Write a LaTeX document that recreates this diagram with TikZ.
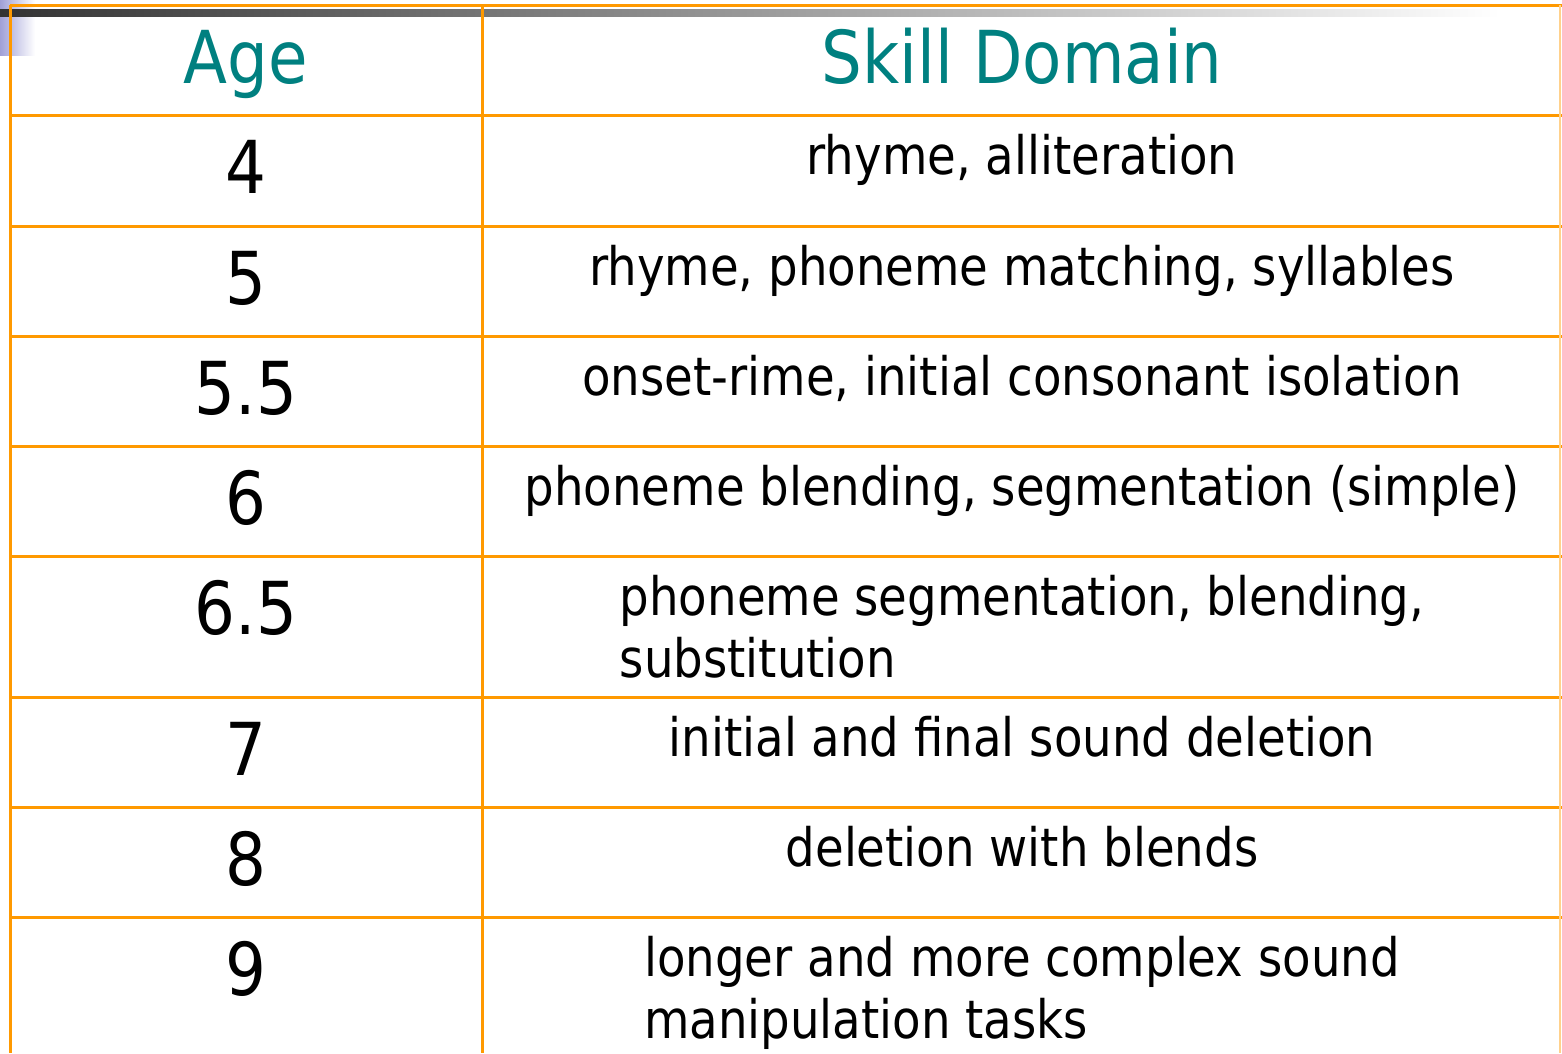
\documentclass[tikz,border=0pt]{standalone}
\usepackage{fontspec}
\setmainfont{DejaVu Sans}[FakeStretch=0.88]
\definecolor{rule}{RGB}{255,153,0}
\definecolor{headteal}{RGB}{0,128,128}
\definecolor{lavender}{RGB}{160,160,215}
\tikzset{
  rulestyle/.style={draw=rule,line width=3pt},
  headtext/.style={anchor=base,text=headteal,inner sep=0,font=\fontsize{73}{80}\selectfont},
  agetext/.style={anchor=base,inner sep=0,font=\fontsize{73}{80}\selectfont},
  skilltext/.style={anchor=base,inner sep=0,font=\fontsize{53}{62}\selectfont}
}
\begin{document}
\begin{tikzpicture}[x=1pt,y=-1pt]
  \useasboundingbox (0,0) rectangle (1562,1053);
  \shade[left color=lavender,right color=white] (0,0) rectangle (35,55);
  \shade[left color=black!80,right color=white] (0,9) rectangle (1500,16);

  \node[headtext] (age-head) at (246,83) {Age};
  \node[headtext] (skill-head) at (1022,83) {Skill Domain};

  \foreach \top/\age/\skill [count=\i] in {
      115/4/{rhyme, alliteration},
      226/5/{rhyme, phoneme matching, syllables},
      336/5.5/{onset-rime, initial consonant isolation},
      446/6/{phoneme blending, segmentation (simple)},
      556/6.5/{\begin{tabular}[t]{@{}l@{}}phoneme segmentation, blending,\\ substitution\end{tabular}},
      697/7/{initial and final sound deletion},
      807/8/{deletion with blends},
      917/9/{\begin{tabular}[t]{@{}l@{}}longer and more complex sound\\ manipulation tasks\end{tabular}}}
  {
    \node[agetext] (age-\i) at (246,\top+78) {\age};
    \node[skilltext] (skill-\i) at (1022,\top+59) {\skill};
  }

  \foreach \y in {5,115,226,336,446,556,697,807,917}
    \draw[rulestyle] (10,\y) -- (1562,\y);
  \foreach \x in {10,482}
    \draw[rulestyle] (\x,5) -- (\x,1053);
  \draw[rulestyle,draw=rule!45,line width=1.5pt] (1560,5) -- (1560,1053);
\end{tikzpicture}
\end{document}
